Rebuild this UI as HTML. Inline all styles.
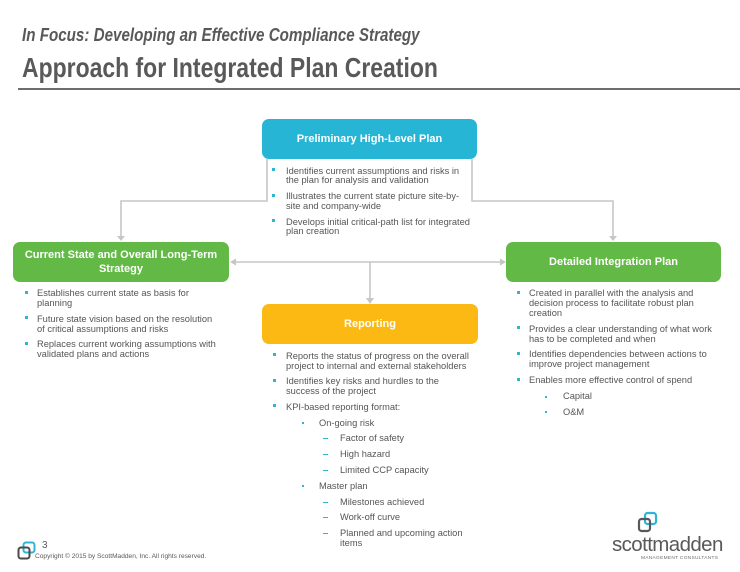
<!DOCTYPE html>
<html><head><meta charset="utf-8">
<style>
*{margin:0;padding:0;box-sizing:border-box}
body{width:740px;height:572px;background:#fff;position:relative;overflow:hidden;font-family:"Liberation Sans",Arial,sans-serif;color:#595959}
.abs{position:absolute;white-space:nowrap}
.t1{left:22px;top:25px;font-size:18.5px;font-weight:bold;font-style:italic;transform:scaleX(0.82);transform-origin:left top;line-height:20px;color:#595959}
.t2{left:22px;top:53px;font-size:28px;font-weight:bold;transform:scaleX(0.82);transform-origin:left top;line-height:30px;color:#595959}
.rule{position:absolute;left:18px;top:88px;width:722px;height:2px;background:#6d6d6d}
.box{position:absolute;border-radius:7px;color:#fff;font-weight:bold;font-size:11px;display:flex;align-items:center;justify-content:center;text-align:center;line-height:14px}
.l{position:absolute;white-space:nowrap;font-size:9.3px;line-height:10px;height:10px;color:#555}
.sq{position:absolute;width:3px;height:3px;background:#2fb4d4}
.dot{position:absolute;width:2px;height:2px;background:#2fb4d4}
.dash{position:absolute;width:5px;height:1px;background:#2fb4d4}
</style></head><body>
<div class="abs t1">In Focus: Developing an Effective Compliance Strategy</div>
<div class="abs t2">Approach for Integrated Plan Creation</div>
<div class="rule"></div>

<svg class="abs" style="left:0;top:0" width="740" height="572">
<g stroke="#c6c6c6" stroke-width="1.6" fill="none">
<polyline points="267,159 267,201 121,201 121,237"/>
<polyline points="472,159 472,201 613,201 613,237"/>
<line x1="234" y1="262" x2="501" y2="262"/>
<line x1="370" y1="262" x2="370" y2="299"/>
</g>
<g fill="#c6c6c6">
<polygon points="117,236 125,236 121,241"/>
<polygon points="609,236 617,236 613,241"/>
<polygon points="230,262 236,258.5 236,265.5"/>
<polygon points="506,262 500,258.5 500,265.5"/>
<polygon points="366,298 374,298 370,304"/>
</g>
<rect x="23.5" y="542.5" width="11" height="10" rx="2.5" fill="none" stroke="#2fb4d4" stroke-width="2"/>
<rect x="18.5" y="547.5" width="11" height="11" rx="2.5" fill="none" stroke="#4a4a4a" stroke-width="2"/>
<rect x="645" y="513" width="11" height="11" rx="2.5" fill="none" stroke="#2fb4d4" stroke-width="2.2"/>
<rect x="639" y="519" width="11" height="12" rx="2.5" fill="none" stroke="#58595b" stroke-width="2.2"/>
</svg>

<div class="box" style="left:262px;top:119px;width:215px;height:40px;background:#27b5d5">Preliminary High-Level Plan</div>
<div class="box" style="left:13px;top:242px;width:216px;height:40px;background:#62b946">Current State and Overall Long-Term<br>Strategy</div>
<div class="box" style="left:506px;top:242px;width:215px;height:40px;background:#62b946">Detailed Integration&nbsp;Plan</div>
<div class="box" style="left:262px;top:304px;width:216px;height:40px;background:#fdb913">Reporting</div>

<div class="sq" style="left:272px;top:168px"></div>
<div class="l" style="left:286px;top:166px">Identifies current assumptions and risks in</div>
<div class="l" style="left:286px;top:175px">the plan for analysis and validation</div>
<div class="sq" style="left:272px;top:194px"></div>
<div class="l" style="left:286px;top:191px">Illustrates the current state picture site-by-</div>
<div class="l" style="left:286px;top:201px">site and company-wide</div>
<div class="sq" style="left:272px;top:219px"></div>
<div class="l" style="left:286px;top:217px">Develops initial critical-path list for integrated</div>
<div class="l" style="left:286px;top:226px">plan creation</div>

<div class="sq" style="left:25px;top:291px"></div>
<div class="l" style="left:37px;top:288px">Establishes current state as basis for</div>
<div class="l" style="left:37px;top:298px">planning</div>
<div class="sq" style="left:25px;top:316px"></div>
<div class="l" style="left:37px;top:314px">Future state vision based on the resolution</div>
<div class="l" style="left:37px;top:324px">of critical assumptions and risks</div>
<div class="sq" style="left:25px;top:342px"></div>
<div class="l" style="left:37px;top:339px">Replaces current working assumptions with</div>
<div class="l" style="left:37px;top:349px">validated plans and actions</div>

<div class="sq" style="left:517px;top:291px"></div>
<div class="l" style="left:529px;top:288px">Created in parallel with the analysis and</div>
<div class="l" style="left:529px;top:298px">decision process to facilitate robust plan</div>
<div class="l" style="left:529px;top:308px">creation</div>
<div class="sq" style="left:517px;top:326px"></div>
<div class="l" style="left:529px;top:324px">Provides a clear understanding of what work</div>
<div class="l" style="left:529px;top:334px">has to be completed and when</div>
<div class="sq" style="left:517px;top:352px"></div>
<div class="l" style="left:529px;top:349px">Identifies dependencies between actions to</div>
<div class="l" style="left:529px;top:359px">improve project management</div>
<div class="sq" style="left:517px;top:378px"></div>
<div class="l" style="left:529px;top:375px">Enables more effective control of spend</div>
<div class="dot" style="left:545px;top:396px"></div>
<div class="l" style="left:563px;top:391px">Capital</div>
<div class="dot" style="left:545px;top:411px"></div>
<div class="l" style="left:563px;top:407px">O&amp;M</div>

<div class="sq" style="left:273px;top:353px"></div>
<div class="l" style="left:286px;top:351px">Reports the status of progress on the overall</div>
<div class="l" style="left:286px;top:361px">project to internal and external stakeholders</div>
<div class="sq" style="left:273px;top:379px"></div>
<div class="l" style="left:286px;top:376px">Identifies key risks and hurdles to the</div>
<div class="l" style="left:286px;top:386px">success of the project</div>
<div class="sq" style="left:273px;top:404px"></div>
<div class="l" style="left:286px;top:402px">KPI-based reporting format:</div>
<div class="dot" style="left:302px;top:422px"></div>
<div class="l" style="left:319px;top:418px">On-going risk</div>
<div class="dash" style="left:323px;top:438px"></div>
<div class="l" style="left:340px;top:433px">Factor of safety</div>
<div class="dash" style="left:323px;top:454px"></div>
<div class="l" style="left:340px;top:449px">High hazard</div>
<div class="dash" style="left:323px;top:470px"></div>
<div class="l" style="left:340px;top:465px">Limited CCP capacity</div>
<div class="dot" style="left:302px;top:485px"></div>
<div class="l" style="left:319px;top:481px">Master plan</div>
<div class="dash" style="left:323px;top:502px"></div>
<div class="l" style="left:340px;top:497px">Milestones achieved</div>
<div class="dash" style="left:323px;top:517px"></div>
<div class="l" style="left:340px;top:512px">Work-off curve</div>
<div class="dash" style="left:323px;top:533px"></div>
<div class="l" style="left:340px;top:528px">Planned and upcoming action</div>
<div class="l" style="left:340px;top:538px">items</div>

<div class="abs" style="left:42px;top:540px;font-size:10px;line-height:12px;color:#595959">3</div>
<div class="abs" style="left:35px;top:553px;font-size:6.6px;line-height:8px;color:#595959">Copyright © 2015 by ScottMadden, Inc. All rights reserved.</div>

<div class="abs" style="left:612px;top:534px;font-size:20.5px;line-height:22px;color:#58595b;letter-spacing:-0.6px">scottmadden</div>
<div class="abs" style="left:641px;top:556px;font-size:4.8px;line-height:6px;color:#6d6e70;letter-spacing:0.3px">MANAGEMENT CONSULTANTS</div>
</body></html>
